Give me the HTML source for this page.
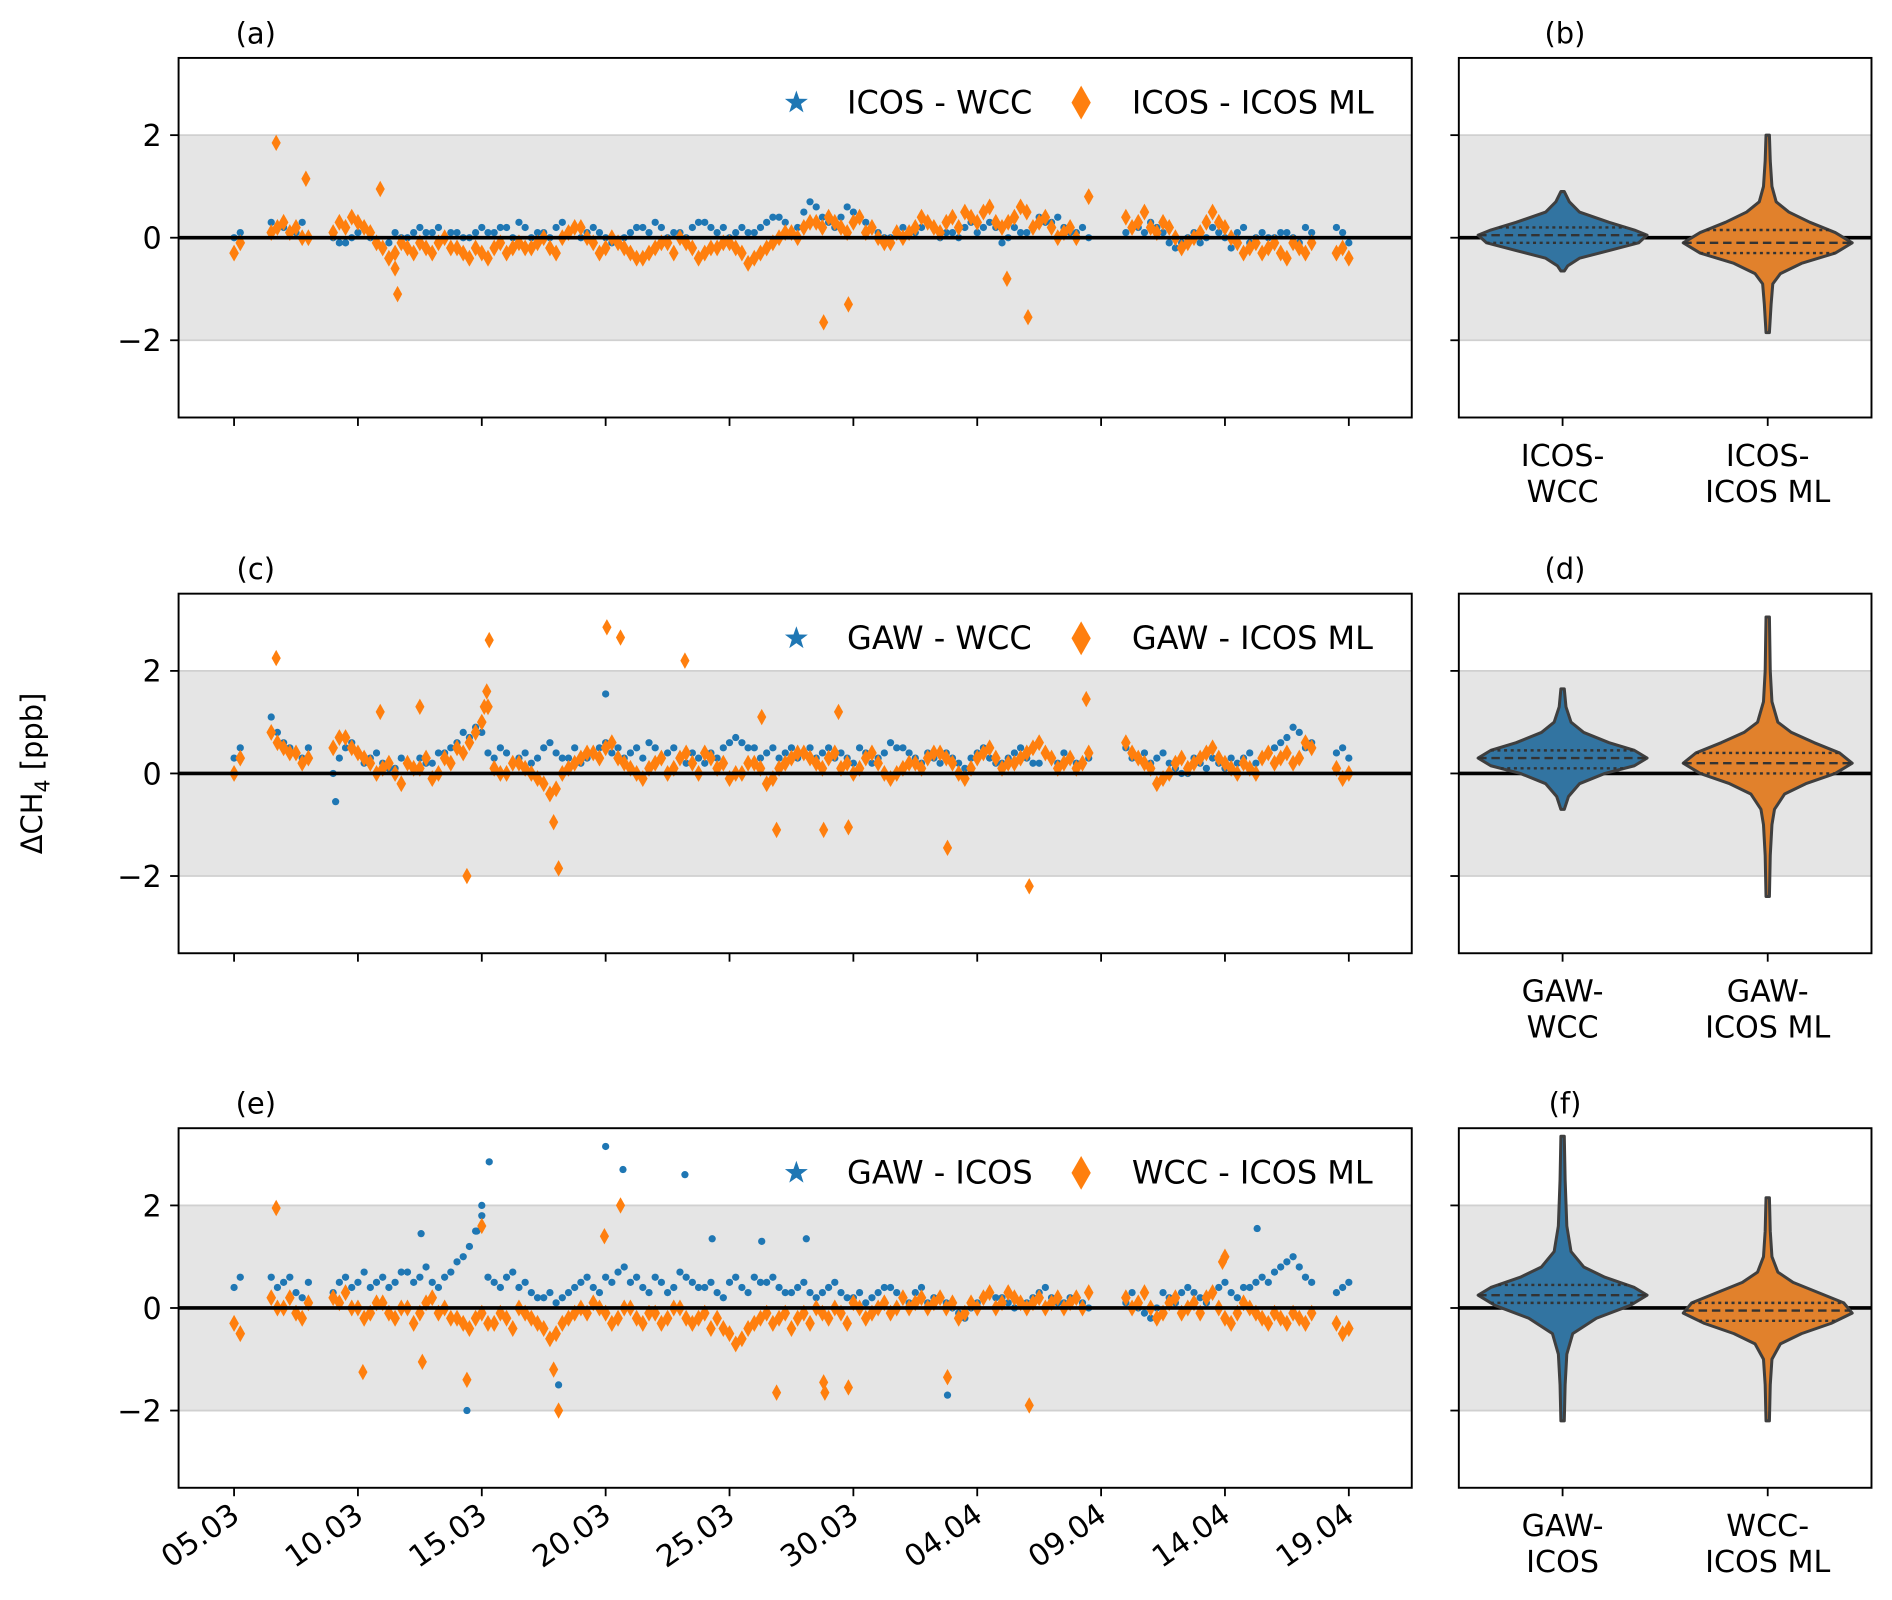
<!DOCTYPE html>
<html><head><meta charset="utf-8"><style>
html,body{margin:0;padding:0;background:#fff}
svg{display:block;font-family:"DejaVu Sans","Liberation Sans",sans-serif}
</style></head><body>
<svg id="fig" xmlns="http://www.w3.org/2000/svg" width="1892" height="1600" viewBox="0 0 1568 1326">
<text x="35" y="641" font-size="24" text-anchor="middle" transform="rotate(-90 35 641)">ΔCH<tspan font-size="17" dy="6">4</tspan><tspan dy="-6"> [ppb]</tspan></text>
</svg>
<script>
const N=null;
const tickDays=[0,5,10,15,20,25,30,35,40,45];
const tickLabels=["05.03","10.03","15.03","20.03","25.03","30.03","04.04","09.04","14.04","19.04"];
const yTicks=[-2,0,2];
const stepDays=0.5;
const icosWcc=[0.0,N,N,0.3,0.2,0.1,0.0,N,0.0,-0.1,0.1,0.0,-0.2,0.1,0.0,0.2,0.1,0.0,0.1,0.0,0.2,0.1,0.2,0.3,0.0,0.1,0.2,0.1,0.0,0.2,0.0,-0.1,0.1,0.2,0.3,0.0,0.1,0.2,0.3,0.1,0.0,0.2,0.1,0.3,0.4,0.1,0.5,0.6,0.3,0.4,0.5,0.3,0.1,0.0,0.2,0.1,0.3,0.0,0.1,0.2,0.1,0.3,-0.1,0.2,0.1,0.4,0.3,0.2,0.1,0.0,N,N,0.1,0.2,0.3,0.1,-0.2,0.0,-0.1,0.2,0.0,0.1,-0.1,0.1,0.0,0.1,-0.1,0.1,N,0.2,-0.1];
const icosWccB=[0.1,N,N,0.2,0.1,0.3,N,N,-0.1,0.0,0.2,-0.1,-0.1,0.0,0.1,0.1,0.2,0.1,0.0,0.1,0.1,0.2,0.0,0.2,0.1,0.0,0.3,0.2,0.1,0.1,-0.1,0.0,0.2,0.1,0.2,0.1,0.0,0.3,0.2,0.2,0.1,0.1,0.2,0.4,0.3,0.2,0.7,0.4,0.2,0.6,0.4,0.2,0.0,0.1,0.1,0.2,0.2,0.1,0.0,0.3,0.2,0.2,0.0,0.1,0.2,0.3,0.4,0.1,0.2,N,N,N,0.2,0.1,0.2,-0.1,-0.1,0.1,0.0,0.1,-0.2,0.2,0.0,0.0,0.1,0.0,0.2,N,N,0.1,N];
const icosMl=[-0.3,N,N,0.1,0.3,0.2,0.0,N,0.1,0.2,0.3,0.1,-0.2,-0.3,-0.2,-0.1,-0.3,0.0,-0.2,-0.4,-0.3,-0.2,-0.3,-0.1,-0.2,0.0,-0.3,0.1,0.2,-0.1,-0.2,-0.1,-0.3,-0.4,-0.2,-0.1,0.0,-0.2,-0.3,-0.2,-0.1,-0.3,-0.4,-0.2,0.0,0.1,0.2,0.3,0.4,0.2,0.3,0.1,0.0,-0.1,0.0,0.2,0.3,0.1,0.4,0.5,0.3,0.6,0.2,0.4,0.5,0.3,0.2,0.1,0.0,0.8,N,N,0.4,0.3,0.2,0.3,0.0,-0.1,0.1,0.5,0.2,-0.1,-0.2,-0.3,-0.1,-0.4,-0.2,-0.1,N,-0.3,-0.4];
const icosMlB=[-0.1,N,N,0.2,0.1,0.0,N,N,0.3,0.4,0.2,-0.1,-0.4,-0.1,-0.3,-0.2,-0.1,-0.2,-0.3,-0.2,-0.4,-0.1,-0.2,-0.2,-0.1,-0.2,0.0,0.2,0.0,-0.3,0.0,-0.2,-0.4,-0.3,-0.1,-0.3,-0.1,-0.4,-0.2,-0.1,-0.2,-0.5,-0.3,-0.1,0.1,0.0,0.3,0.2,0.3,0.1,0.4,0.2,-0.1,0.1,0.1,0.4,0.2,0.3,0.2,0.4,0.5,0.3,0.3,0.6,0.2,0.4,0.0,0.2,N,N,N,N,0.2,0.5,0.1,0.2,-0.2,0.0,0.3,0.3,0.0,-0.3,-0.1,-0.2,-0.3,-0.1,-0.3,N,N,-0.2,N];
const icosMlOutT=[1.7,2.9,5.9,6.5,6.6,23.8,24.8,31.2,32.05];
const icosMlOutV=[1.85,1.15,0.95,-0.6,-1.1,-1.65,-1.3,-0.8,-1.55];
const gawWcc=[0.3,N,N,1.1,0.6,0.4,0.5,N,0.0,0.5,0.4,0.3,0.2,0.1,0.2,0.3,0.2,0.4,0.6,0.7,0.8,0.3,0.4,0.3,0.2,0.5,0.4,0.3,0.2,0.4,0.6,0.5,0.4,0.3,0.5,0.4,0.3,0.4,0.2,0.3,0.6,0.6,0.5,0.4,0.3,0.5,0.4,0.3,0.5,0.4,0.2,0.4,0.3,0.6,0.5,0.3,0.4,0.2,0.3,0.1,0.4,0.3,0.2,0.4,0.3,0.2,0.3,0.4,0.2,0.3,N,N,0.5,0.3,0.2,0.4,0.1,0.0,0.2,0.3,0.1,0.2,0.4,0.3,0.5,0.7,0.8,0.6,N,0.4,0.3];
const gawWccB=[0.5,N,N,0.8,0.5,0.3,N,N,0.3,0.6,0.2,0.4,0.1,0.3,0.1,0.2,0.4,0.5,0.8,0.9,0.4,0.5,0.2,0.4,0.3,0.6,0.3,0.5,0.3,0.5,0.4,0.3,0.5,0.6,0.3,0.5,0.2,0.3,0.4,0.5,0.7,0.5,0.3,0.5,0.4,0.3,0.5,0.4,0.3,0.3,0.5,0.2,0.4,0.5,0.4,0.2,0.3,0.4,0.2,0.3,0.5,0.2,0.3,0.5,0.2,0.4,0.2,0.3,N,N,N,N,0.3,0.4,0.3,0.2,0.0,0.3,0.1,0.2,0.3,0.3,0.2,0.4,0.6,0.9,0.5,N,N,0.5,N];
const gawWccOutT=[15.0,4.1];
const gawWccOutV=[1.55,-0.55];
const gawMl=[0.0,N,N,0.8,0.5,0.4,0.3,N,0.5,0.7,0.4,0.2,0.1,0.0,0.2,0.1,-0.1,0.3,0.5,0.6,1.0,0.1,0.0,0.2,0.0,-0.2,-0.3,0.1,0.3,0.4,0.5,0.3,0.1,-0.1,0.2,0.0,0.3,0.2,0.4,0.1,-0.1,0.0,0.2,-0.2,0.1,0.3,0.4,0.2,0.3,0.1,0.0,0.3,0.2,-0.1,0.1,0.2,0.3,0.4,0.2,-0.1,0.3,0.5,0.1,0.2,0.4,0.6,0.3,0.2,0.1,0.4,N,N,0.6,0.3,0.1,-0.1,0.2,0.1,0.3,0.5,0.2,0.0,0.1,0.3,0.2,0.4,0.3,0.5,N,0.1,0.0];
const gawMlB=[0.3,N,N,0.6,0.4,0.2,N,N,0.7,0.5,0.3,0.0,0.2,-0.2,0.1,0.3,0.0,0.2,0.4,0.8,1.3,0.0,0.2,0.1,-0.1,-0.4,0.0,0.2,0.4,0.3,0.6,0.2,0.0,0.1,0.3,0.1,0.4,0.0,0.3,0.2,0.0,0.2,0.1,-0.1,0.2,0.4,0.3,0.1,0.4,0.2,0.1,0.4,0.0,0.0,0.2,0.1,0.4,0.3,0.0,0.1,0.4,0.3,0.2,0.3,0.5,0.4,0.1,0.3,0.2,N,N,N,0.4,0.2,-0.2,0.0,0.3,0.2,0.4,0.3,0.1,0.2,0.0,0.4,0.3,0.2,0.6,N,N,-0.1,N];
const gawMlOutT=[1.7,10.3,15.05,15.6,18.2,9.4,13.1,12.9,32.1,34.4,28.8,21.9,23.8,24.8,24.4,21.3,7.5,5.9,10.2,10.1];
const gawMlOutV=[2.25,2.6,2.85,2.65,2.2,-2.0,-1.85,-0.95,-2.2,1.45,-1.45,-1.1,-1.1,-1.05,1.2,1.1,1.3,1.2,1.6,1.3];
const gawIcos=[0.4,N,N,0.6,0.5,0.3,0.5,N,0.3,0.6,0.5,0.4,0.6,0.5,0.7,0.6,0.5,0.6,0.9,1.2,1.8,0.5,0.6,0.4,0.3,0.2,0.1,0.3,0.5,0.4,0.6,0.7,0.5,0.4,0.6,0.3,0.7,0.5,0.4,0.3,0.5,0.4,0.6,0.5,0.4,0.3,0.5,0.2,0.4,0.3,0.2,0.1,0.3,0.4,0.2,0.3,0.1,0.2,0.0,-0.2,0.1,0.3,0.2,0.0,0.1,0.3,0.2,0.1,0.2,0.0,N,N,0.1,0.0,-0.2,0.3,0.1,0.4,0.2,0.3,0.5,0.2,0.4,0.6,0.7,0.9,0.8,0.5,N,0.3,0.5];
const gawIcosB=[0.6,N,N,0.4,0.6,0.2,N,N,0.5,0.4,0.7,0.5,0.4,0.7,0.5,0.8,0.4,0.7,1.0,1.5,0.6,0.4,0.7,0.5,0.2,0.3,0.2,0.4,0.6,0.3,0.5,0.8,0.6,0.3,0.5,0.4,0.6,0.4,0.5,0.2,0.6,0.3,0.5,0.6,0.3,0.4,0.3,0.3,0.5,0.2,0.3,0.2,0.4,0.3,0.1,0.4,0.2,0.1,-0.1,0.0,0.2,0.2,0.1,0.1,0.2,0.4,0.1,0.2,0.1,N,N,N,0.3,-0.1,0.0,0.2,0.3,0.3,0.1,0.4,0.3,0.4,0.5,0.5,0.8,1.0,0.6,N,N,0.4,N];
const gawIcosOutT=[10.3,15.0,15.7,18.2,9.4,13.1,28.8,7.55,19.3,21.3,23.1,41.3,10.0,9.8];
const gawIcosOutV=[2.85,3.15,2.7,2.6,-2.0,-1.5,-1.7,1.45,1.35,1.3,1.35,1.55,2.0,1.5];
const wccMl=[-0.3,N,N,0.2,0.0,-0.1,0.1,N,0.2,0.3,0.0,-0.1,0.1,-0.2,0.0,-0.1,0.2,0.0,-0.2,-0.4,-0.1,-0.3,-0.2,0.0,-0.2,-0.4,-0.5,-0.2,0.0,0.1,-0.1,-0.2,0.0,-0.3,-0.1,-0.2,0.0,-0.3,-0.1,-0.2,-0.5,-0.6,-0.3,-0.1,-0.2,-0.4,-0.1,0.0,-0.2,-0.1,0.1,-0.2,0.0,-0.1,0.2,0.1,0.0,0.2,0.1,-0.1,0.0,0.3,0.1,0.2,0.0,0.2,0.1,0.0,0.2,0.3,N,N,0.2,0.1,0.0,-0.1,0.2,0.0,-0.1,0.3,-0.2,-0.1,0.0,-0.2,-0.1,-0.3,-0.2,-0.1,N,-0.3,-0.4];
const wccMlB=[-0.5,N,N,0.0,0.2,-0.2,N,N,0.1,0.0,-0.2,0.1,-0.1,0.0,-0.3,0.1,-0.1,-0.2,-0.3,-0.2,-0.3,-0.1,-0.4,-0.1,-0.3,-0.6,-0.3,-0.1,-0.1,0.0,-0.3,0.0,-0.2,-0.1,-0.3,0.0,-0.2,-0.2,-0.4,-0.4,-0.7,-0.4,-0.2,-0.3,-0.1,-0.2,-0.3,-0.1,0.0,-0.3,0.0,-0.1,0.1,0.0,0.0,0.2,0.1,0.0,-0.2,0.1,0.2,0.0,0.3,0.1,0.1,0.0,0.2,0.1,0.0,N,N,N,0.0,0.3,-0.2,0.1,-0.1,0.1,0.2,0.0,-0.3,0.1,-0.1,-0.3,-0.2,-0.1,-0.3,N,N,-0.5,N];
const wccMlOutT=[1.7,15.6,14.95,10.0,5.2,9.4,13.1,12.9,21.9,23.8,23.85,24.8,28.8,32.1,7.6,40.0,39.9];
const wccMlOutV=[1.95,2.0,1.4,1.6,-1.25,-1.4,-2.0,-1.2,-1.65,-1.45,-1.65,-1.55,-1.35,-1.9,-1.05,1.0,0.9];

const violinShapes={
 b1:[[0.9,0.02],[0.7,0.08],[0.5,0.2],[0.3,0.55],[0.15,0.85],[0.05,1],[-0.1,0.9],[-0.25,0.55],[-0.4,0.2],[-0.55,0.06],[-0.65,0.02]],
 b2:[[2.0,0.02],[1.5,0.03],[1.0,0.05],[0.7,0.1],[0.5,0.25],[0.3,0.5],[0.1,0.8],[-0.1,1],[-0.3,0.8],[-0.5,0.4],[-0.7,0.15],[-0.9,0.06],[-1.3,0.04],[-1.85,0.02]],
 d1:[[1.65,0.02],[1.3,0.04],[1.0,0.1],[0.8,0.25],[0.6,0.55],[0.45,0.85],[0.3,1],[0.15,0.85],[0,0.5],[-0.2,0.2],[-0.45,0.07],[-0.7,0.02]],
 d2:[[3.05,0.02],[2.0,0.03],[1.4,0.05],[1.0,0.12],[0.8,0.28],[0.6,0.55],[0.4,0.85],[0.2,1],[0,0.8],[-0.2,0.45],[-0.4,0.2],[-0.7,0.08],[-1.0,0.05],[-1.6,0.03],[-2.4,0.02]],
 f1:[[3.35,0.02],[2.5,0.03],[1.6,0.05],[1.1,0.1],[0.8,0.25],[0.6,0.5],[0.4,0.85],[0.25,1],[0.05,0.8],[-0.2,0.4],[-0.5,0.12],[-0.9,0.05],[-1.5,0.03],[-2.2,0.02]],
 f2:[[2.15,0.02],[1.5,0.03],[1.0,0.05],[0.7,0.12],[0.5,0.3],[0.3,0.6],[0.1,0.9],[-0.1,1],[-0.3,0.75],[-0.5,0.4],[-0.7,0.15],[-1.0,0.05],[-1.5,0.03],[-2.2,0.02]]
};
const violinQuartiles={b1:[-0.1,0.05,0.2],b2:[-0.3,-0.1,0.15],d1:[0.1,0.3,0.45],d2:[0.0,0.2,0.4],f1:[0.1,0.25,0.45],f2:[-0.25,-0.05,0.1]};

const NS="http://www.w3.org/2000/svg";
const svg=document.getElementById('fig');
const BLUE="#1f77b4",ORANGE="#ff7f0e",VB="#3274a1",VO="#e1812c";
function mk(tag,attrs,parent){const e=document.createElementNS(NS,tag);for(const k in attrs)e.setAttribute(k,attrs[k]);(parent||svg).appendChild(e);return e;}
function txt(s,x,y,size,anchor,parent){const t=mk('text',{x:x,y:y,'font-size':size,'text-anchor':anchor||'middle'},parent);t.textContent=s;return t;}

const L=148,R=1170,VL=1209,VR=1551,H=298,pxDay=20.53,pxUnit=42.5;
const panels=[
 {top:48,lab:"(a)",vlab:"(b)",s1:icosWcc,s1b:icosWccB,s2:icosMl,s2b:icosMlB,o1t:[],o1v:[],o2t:icosMlOutT,o2v:icosMlOutV,l1:"ICOS - WCC",l2:"ICOS - ICOS ML",v:["b1","b2"],vt:[["ICOS-","WCC"],["ICOS-","ICOS ML"]]},
 {top:492,lab:"(c)",vlab:"(d)",s1:gawWcc,s1b:gawWccB,s2:gawMl,s2b:gawMlB,o1t:gawWccOutT,o1v:gawWccOutV,o2t:gawMlOutT,o2v:gawMlOutV,l1:"GAW - WCC",l2:"GAW - ICOS ML",v:["d1","d2"],vt:[["GAW-","WCC"],["GAW-","ICOS ML"]]},
 {top:935,lab:"(e)",vlab:"(f)",s1:gawIcos,s1b:gawIcosB,s2:wccMl,s2b:wccMlB,o1t:gawIcosOutT,o1v:gawIcosOutV,o2t:wccMlOutT,o2v:wccMlOutV,l1:"GAW - ICOS",l2:"WCC - ICOS ML",v:["f1","f2"],vt:[["GAW-","ICOS"],["WCC-","ICOS ML"]]}
];
function dia(g,cx,cy,w,h){return mk('path',{d:`M${cx} ${cy-h}L${cx+w} ${cy}L${cx} ${cy+h}L${cx-w} ${cy}Z`,fill:ORANGE},g);}
panels.forEach((p,pi)=>{
 const zero=p.top+H/2;
 const x=t=>L+(t+2.24)*pxDay, y=v=>zero-v*pxUnit;
 const g=mk('g',{});
 const band=mk('rect',{x:L,y:y(2),width:R-L,height:y(-2)-y(2),fill:'#e5e5e5'},g);
 
 mk('line',{x1:L,x2:R,y1:y(2),y2:y(2),stroke:'#d0d0d0','stroke-width':1.5},g);
 mk('line',{x1:L,x2:R,y1:y(-2),y2:y(-2),stroke:'#d0d0d0','stroke-width':1.5},g);
 const s1=mk('g',{},g);
 p.s1.forEach((v,i)=>{if(v===null)return;mk('circle',{cx:x(i*stepDays),cy:y(v),r:3,fill:BLUE},s1);});
 p.s1b.forEach((v,i)=>{if(v===null)return;mk('circle',{cx:x(i*stepDays+stepDays/2),cy:y(v),r:3,fill:BLUE},s1);});
 p.o1t.forEach((t,i)=>mk('circle',{cx:x(t),cy:y(p.o1v[i]),r:3,fill:BLUE},s1));
 const s2=mk('g',{},g);
 p.s2.forEach((v,i)=>{if(v===null)return;dia(s2,x(i*stepDays),y(v),4,7);});
 p.s2b.forEach((v,i)=>{if(v===null)return;dia(s2,x(i*stepDays+stepDays/2),y(v),4,7);});
 p.o2t.forEach((t,i)=>dia(s2,x(t),y(p.o2v[i]),3.8,6.8));
 mk('line',{x1:L,x2:R,y1:zero,y2:zero,stroke:'#000','stroke-width':3},g);
 const fr=mk('rect',{x:L,y:p.top,width:R-L,height:H,fill:'none',stroke:'#000','stroke-width':1.6},g);
 
 yTicks.forEach(v=>{mk('line',{x1:L-7,x2:L,y1:y(v),y2:y(v),stroke:'#000','stroke-width':1.5},g);
  txt(v<0?'\u2212'+(-v):String(v),L-14,y(v)+9,25,'end',g);});
 tickDays.forEach((d,i)=>{mk('line',{x1:x(d),x2:x(d),y1:p.top+H,y2:p.top+H+7,stroke:'#000','stroke-width':1.5},g);
  if(pi===2){const ax=x(d)+6,ay=p.top+H+26;const t=txt(tickLabels[i],ax,ay,25,'end',g);t.setAttribute('transform',`rotate(-35 ${ax} ${ay})`);}});
 txt(p.lab,212,p.top-12,24,'middle',g);
 const lg=mk('g',{},g);
 const ly=p.top+37;
 mk('path',{d:(()=>{let s='';for(let k=0;k<10;k++){const a=-Math.PI/2+k*Math.PI/5,r=k%2?4:10;s+=(k?'L':'M')+(660+r*Math.cos(a)).toFixed(1)+' '+(ly+r*Math.sin(a)).toFixed(1);}return s+'Z';})(),fill:BLUE},lg);
 txt(p.l1,702,ly+9,26.5,'start',lg);
 dia(lg,896,ly,8,14);
 txt(p.l2,938,ly+9,26.5,'start',lg);
 const vg=mk('g',{});
 mk('rect',{x:VL,y:y(2),width:VR-VL,height:y(-2)-y(2),fill:'#e5e5e5'},vg);
 mk('line',{x1:VL,x2:VR,y1:y(2),y2:y(2),stroke:'#d0d0d0','stroke-width':1.5},vg);
 mk('line',{x1:VL,x2:VR,y1:y(-2),y2:y(-2),stroke:'#d0d0d0','stroke-width':1.5},vg);
 mk('line',{x1:VL,x2:VR,y1:zero,y2:zero,stroke:'#000','stroke-width':3},vg);
 [1295,1465].forEach((cx,k)=>{
  const sh=violinShapes[p.v[k]],hw=70;
  let d='';sh.forEach((pt,j)=>{d+=(j?'L':'M')+(cx+pt[1]*hw)+' '+y(pt[0]);});
  for(let j=sh.length-1;j>=0;j--)d+='L'+(cx-sh[j][1]*hw)+' '+y(sh[j][0]);
  const vp=mk('path',{d:d+'Z',fill:k?VO:VB,stroke:'#3f3f3f','stroke-width':2.5,'stroke-linejoin':'round'},vg);
  
  const wAt=v=>{for(let j=0;j<sh.length-1;j++){const a=sh[j],b=sh[j+1];if(v<=a[0]&&v>=b[0]){const f=(a[0]-v)/(a[0]-b[0]);return (a[1]+f*(b[1]-a[1]))*hw;}}return 0;};
  violinQuartiles[p.v[k]].forEach((q,qi)=>{const w=wAt(q);mk('line',{x1:cx-w,x2:cx+w,y1:y(q),y2:y(q),stroke:'#333','stroke-width':2,'stroke-dasharray':qi===1?'7 4':'2.5 3'},vg);});
  mk('line',{x1:cx,x2:cx,y1:p.top+H,y2:p.top+H+7,stroke:'#000','stroke-width':1.5},vg);
  txt(p.vt[k][0],cx,p.top+H+40,25,'middle',vg);txt(p.vt[k][1],cx,p.top+H+70,25,'middle',vg);
 });
 yTicks.forEach(v=>mk('line',{x1:VL-7,x2:VL,y1:y(v),y2:y(v),stroke:'#000','stroke-width':1.5},vg));
 mk('rect',{x:VL,y:p.top,width:VR-VL,height:H,fill:'none',stroke:'#000','stroke-width':1.6},vg);
 txt(p.vlab,1297,p.top-12,24,'middle',vg);
});
</script>
</body></html>
